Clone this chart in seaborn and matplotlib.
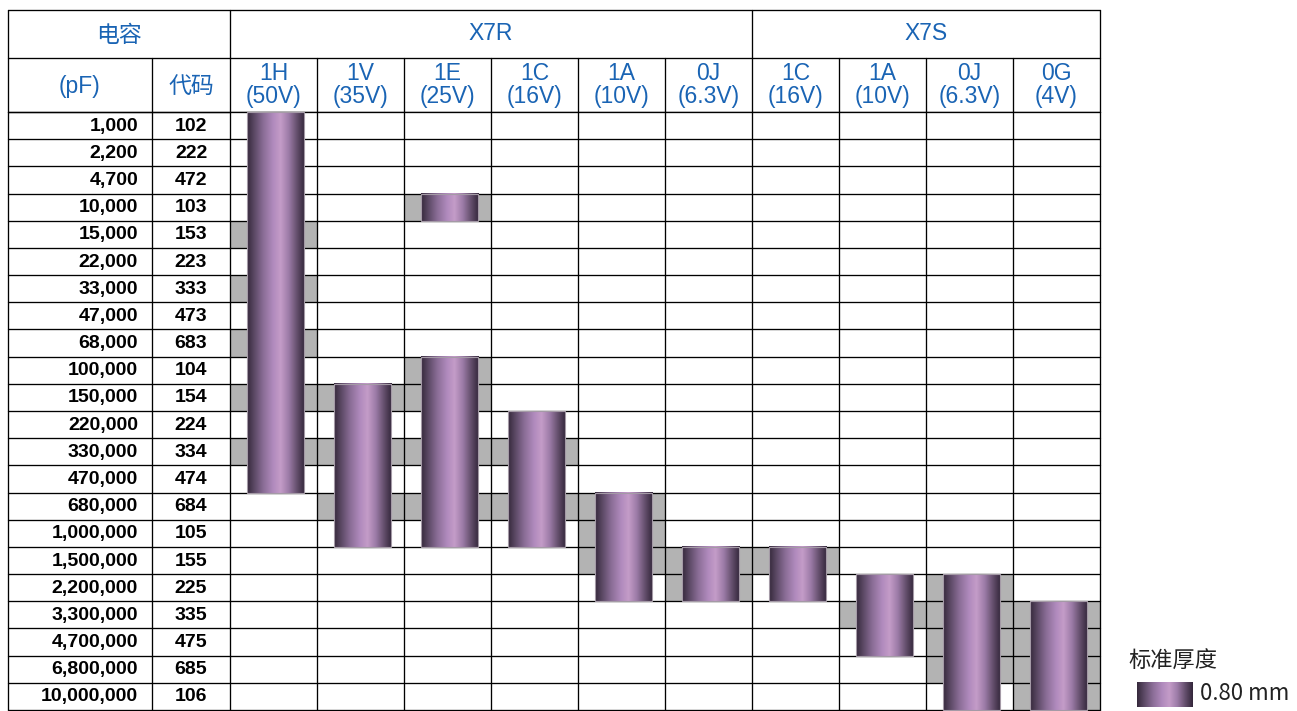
import numpy as np
import pandas as pd
import matplotlib
matplotlib.use('Agg')
import matplotlib.pyplot as plt
import matplotlib.transforms as mtransforms
from matplotlib.colors import ListedColormap, LinearSegmentedColormap
from matplotlib.patches import Rectangle
import seaborn as sns

# capacitance rows
caps = ['1,000', '2,200', '4,700', '10,000', '15,000', '22,000', '33,000', '47,000',
        '68,000', '100,000', '150,000', '220,000', '330,000', '470,000', '680,000',
        '1,000,000', '1,500,000', '2,200,000', '3,300,000', '4,700,000', '6,800,000',
        '10,000,000']
codes = ['102', '222', '472', '103', '153', '223', '333', '473', '683', '104', '154',
         '224', '334', '474', '684', '105', '155', '225', '335', '475', '685', '106']

# voltage columns
groups = ['X7R', 'X7S']
group_sizes = [6, 4]
volt_codes = ['1H', '1V', '1E', '1C', '1A', '0J', '1C', '1A', '0J', '0G']
volts = ['(50V)', '(35V)', '(25V)', '(16V)', '(10V)', '(6.3V)', '(16V)', '(10V)', '(6.3V)', '(4V)']

# bars: (column, first code, last code)
bars = [(0, '102', '474'), (1, '154', '105'), (2, '103', '103'), (2, '104', '105'),
        (3, '224', '105'), (4, '684', '225'), (5, '155', '225'), (6, '155', '225'),
        (7, '225', '475'), (8, '225', '106'), (9, '335', '106')]

# grey marked cells per column
grey = [['153', '333', '683', '154', '334'],
        ['154', '334', '684'],
        ['103', '104', '154', '334', '684'],
        ['334', '684'],
        ['684', '105', '155'],
        ['155', '225'],
        ['155'],
        ['335'],
        ['225', '335', '475', '685'],
        ['335', '475', '685', '106']]

legend_title = '标准厚度'
legend_label = '0.80 mm'

sns.set_theme(style='white')
plt.rcParams['font.family'] = ['Liberation Sans', 'Noto Sans CJK SC']

blue = '#1a64b4'
W, H = 1297, 711
fig = plt.figure(figsize=(W / 100, H / 100), dpi=100)
fig.patch.set_facecolor('white')

# full-figure axes in pixel units for header / left columns
frame = fig.add_axes([0, 0, 1, 1])
frame.set_xlim(0, W)
frame.set_ylim(H, 0)
frame.axis('off')
frame.patch.set_alpha(0)

x_left, x_mid, x_grid, x_right = 8, 152, 230, 1100
y_top, y_h1, y_grid, y_bot = 10, 58, 112, 710

ax = fig.add_axes([x_grid / W, (H - y_bot) / H, (x_right - x_grid) / W, (y_bot - y_grid) / H])

cols = [f'{g}_{c}' for g, n in zip(groups, group_sizes) for c in range(n)]
mat = pd.DataFrame(0, index=codes, columns=cols)
for j, lst in enumerate(grey):
    for c in lst:
        mat.iloc[codes.index(c), j] = 1

sns.heatmap(mat, ax=ax, cmap=ListedColormap(['white', '#b3b3b3']), vmin=0, vmax=1,
            cbar=False, linewidths=0, xticklabels=False, yticklabels=False)
ax.set_xlabel('')
ax.set_ylabel('')
# cell borders
for i in range(len(codes) + 1):
    ax.axhline(i, color='black', lw=0.95, zorder=2, clip_on=False)
for j in range(len(cols) + 1):
    ax.axvline(j, color='black', lw=0.95, zorder=2, clip_on=False)

# gradient bars
grad_cmap = LinearSegmentedColormap.from_list('cyl', [
    (0.0, '#35283b'), (0.12, '#5a4863'), (0.28, '#8a6d96'), (0.45, '#b08abd'),
    (0.58, '#c49cc8'), (0.72, '#9d7ca8'), (0.88, '#5e4a66'), (1.0, '#33263a')])
grad = np.linspace(0, 1, 256).reshape(1, -1)
bw = 0.66
for j, c0, c1 in bars:
    r0, r1 = codes.index(c0), codes.index(c1) + 1
    x0 = j + 0.52 - bw / 2
    ax.imshow(grad, cmap=grad_cmap, extent=(x0, x0 + bw, r1, r0), aspect='auto',
              zorder=3, interpolation='bilinear', clip_on=False)
    ax.add_patch(Rectangle((x0, r0), bw, r1 - r0, fill=False, edgecolor='#a49aa6',
                           lw=0.8, zorder=4, clip_on=False))
ax.set_xlim(0, len(cols))
ax.set_ylim(len(codes), 0)

# left columns, aligned with heatmap rows
tr = mtransforms.blended_transform_factory(frame.transData, ax.transData)
for i in range(len(codes) + 1):
    frame.plot([x_left, x_grid], [i, i], color='black', lw=0.95, transform=tr)
for x in (x_left, x_mid):
    frame.plot([x, x], [0, len(codes)], color='black', lw=0.95, transform=tr)
for i, (cap, code) in enumerate(zip(caps, codes)):
    frame.text(138, i + 0.52, cap, transform=tr, ha='right', va='center',
               fontsize=14, fontweight='bold', color='black')
    frame.text((x_mid + x_grid) / 2, i + 0.52, code, transform=tr, ha='center',
               va='center', fontsize=14, fontweight='bold', color='black')

# header lines
lk = dict(color='black', lw=0.95)
frame.plot([x_left, x_right], [y_top, y_top], **lk)
frame.plot([x_left, x_right], [y_h1, y_h1], **lk)
frame.plot([x_left, x_right], [y_grid, y_grid], **lk)
frame.plot([x_left, x_left], [y_top, y_grid], **lk)
frame.plot([x_right, x_right], [y_top, y_grid], **lk)
frame.plot([x_mid, x_mid], [y_h1, y_grid], **lk)
col_w = (x_right - x_grid) / len(cols)
edges = [x_grid + k * col_w for k in range(len(cols) + 1)]
for x in edges[:-1]:
    frame.plot([x, x], [y_h1, y_grid], **lk)
start = 0
for g, n in zip(groups, group_sizes):
    xa, xb = edges[start], edges[start + n]
    frame.plot([xa, xa], [y_top, y_h1], **lk)
    frame.text((xa + xb) / 2, 34, g, ha='center', va='center', fontsize=16.5, color=blue)
    start += n

frame.text((x_left + x_grid) / 2, 36, '电容', ha='center', va='center', fontsize=16.5, color=blue)
frame.text((x_left + x_mid) / 2, 86, '(pF)', ha='center', va='center', fontsize=16.5, color=blue)
frame.text((x_mid + x_grid) / 2, 86, '代码', ha='center', va='center', fontsize=16.5, color=blue)
for k, (vc, v) in enumerate(zip(volt_codes, volts)):
    xc = (edges[k] + edges[k + 1]) / 2
    frame.text(xc, 73, vc, ha='center', va='center', fontsize=16.5, color=blue)
    frame.text(xc, 96, v, ha='center', va='center', fontsize=16.5, color=blue)

# legend
frame.text(1128, 660, legend_title, ha='left', va='center', fontsize=16,
           color='#222222', family=['Noto Sans CJK SC', 'DejaVu Sans'])
frame.imshow(grad, cmap=grad_cmap, extent=(1137, 1193, 707, 682), aspect='auto',
             interpolation='bilinear')
frame.set_xlim(0, W)
frame.set_ylim(H, 0)
frame.text(1200, 694, legend_label, ha='left', va='center', fontsize=16,
           color='#222222', family=['Noto Sans CJK SC', 'DejaVu Sans'])

fig.savefig('out.png', dpi=100, facecolor='white')
